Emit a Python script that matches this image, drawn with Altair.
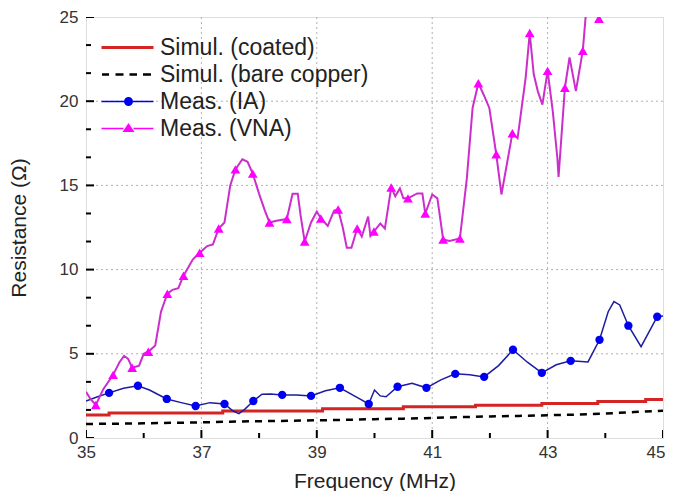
import altair as alt
import pandas as pd

# ---------------- data ----------------
coated_x = [35.0, 35.4, 37.37, 39.1, 40.5, 41.75, 42.9, 43.87, 44.7, 45.0]
coated_y = [1.37, 1.49, 1.60, 1.73, 1.85, 1.95, 2.05, 2.17, 2.28, 2.28]

bare_x = [35, 35.5, 36, 36.5, 37, 37.5, 38, 38.5, 39, 39.5, 40, 40.5, 41, 41.5,
          42, 42.5, 43, 43.5, 44, 44.5, 45]
bare_y = [0.83, 0.85, 0.87, 0.90, 0.93, 0.97, 1.00, 1.02, 1.05, 1.08, 1.12, 1.15,
          1.19, 1.24, 1.28, 1.31, 1.35, 1.39, 1.45, 1.54, 1.62]

ia_x = [35.0, 35.2, 35.4, 35.65, 35.9, 36.1, 36.4, 36.65, 36.9, 37.15, 37.4, 37.55,
        37.65, 37.75, 37.9, 38.05, 38.2, 38.4, 38.65, 38.9, 39.15, 39.4, 39.65, 39.9,
        40.0, 40.1, 40.2, 40.4, 40.65, 40.9, 41.15, 41.4, 41.65, 41.9, 42.15, 42.4,
        42.65, 42.9, 43.15, 43.4, 43.7, 43.9, 44.05, 44.15, 44.25, 44.4, 44.62, 44.9, 45.0]
ia_y = [2.2, 2.45, 2.68, 2.95, 3.10, 2.85, 2.32, 2.1, 1.90, 2.1, 2.02, 1.6,
        1.45, 1.7, 2.20, 2.6, 2.62, 2.56, 2.55, 2.50, 2.8, 2.98, 2.5, 2.02,
        2.85, 2.5, 2.45, 3.04, 3.25, 2.98, 3.45, 3.81, 3.75, 3.63, 4.3, 5.24,
        4.5, 3.87, 4.35, 4.58, 4.52, 5.83, 7.5, 8.1, 7.9, 6.67, 5.42, 7.20, 7.25]

ia_mx = [35.4, 35.9, 36.4, 36.9, 37.4, 37.9, 38.4, 38.9, 39.4, 39.9,
         40.4, 40.9, 41.4, 41.9, 42.4, 42.9, 43.4, 43.9, 44.4, 44.9]
ia_my = [2.68, 3.10, 2.32, 1.90, 2.02, 2.20, 2.56, 2.50, 2.98, 2.02,
         3.04, 2.98, 3.81, 3.63, 5.24, 3.87, 4.58, 5.83, 6.67, 7.20]

vna_x = [35.00, 35.08, 35.17, 35.30, 35.47, 35.58, 35.66, 35.73, 35.80, 35.92, 36.00,
         36.08, 36.20, 36.30, 36.41, 36.50, 36.60, 36.69, 36.85, 36.97, 37.10, 37.20,
         37.30, 37.40, 37.50, 37.59, 37.71, 37.80, 37.89, 38.00, 38.10, 38.18, 38.30,
         38.48, 38.58, 38.67, 38.72, 38.79, 38.90, 39.00, 39.07, 39.19, 39.30, 39.37,
         39.45, 39.52, 39.60, 39.70, 39.78, 39.89, 39.93, 39.99, 40.10, 40.18, 40.29,
         40.36, 40.44, 40.50, 40.58, 40.74, 40.83, 40.88, 41.00, 41.09, 41.19, 41.30,
         41.48, 41.60, 41.70, 41.80, 41.89, 41.99, 42.11, 42.20, 42.39, 42.48, 42.62,
         42.69, 42.76, 42.83, 42.91, 43.00, 43.09, 43.17, 43.19, 43.30, 43.38, 43.49,
         43.61, 43.66, 43.75, 43.89]
vna_y = [2.74, 2.30, 1.96, 2.90, 3.75, 4.50, 4.88, 4.70, 4.17, 4.30, 5.00,
         5.12, 5.50, 7.50, 8.57, 8.80, 8.90, 9.64, 10.60, 11.00, 11.40, 11.50,
         12.44, 12.80, 15.00, 15.95, 16.55, 16.40, 15.70, 14.50, 13.50, 12.80, 12.90,
         13.00, 14.50, 14.50, 13.20, 11.67, 12.80, 13.45, 13.04, 12.60, 13.50, 13.57,
         12.50, 11.30, 11.30, 12.44, 11.96, 13.15, 12.00, 12.26, 12.74, 12.44, 14.88,
         14.35, 14.82, 14.23, 14.23, 14.52, 14.52, 13.33, 14.46, 14.23, 11.79, 11.70,
         11.85, 15.40, 19.60, 21.07, 20.40, 19.60, 16.85, 14.46, 18.10, 17.80, 21.40,
         24.05, 21.60, 20.60, 19.80, 21.80, 19.40, 16.60, 15.50, 20.80, 22.60, 20.60,
         23.00, 25.05, 25.80, 24.90]

vna_mx = [35.17, 35.47, 35.80, 36.08, 36.41, 36.69, 36.97, 37.30, 37.59, 37.89,
          38.18, 38.48, 38.79, 39.07, 39.37, 39.70, 39.99, 40.29, 40.58, 40.88,
          41.19, 41.48, 41.80, 42.11, 42.39, 42.69, 43.00, 43.30, 43.61, 43.89]
vna_my = [1.96, 3.75, 4.17, 5.12, 8.57, 9.64, 11.00, 12.44, 15.95, 15.70,
          12.80, 13.00, 11.67, 13.04, 13.57, 12.44, 12.26, 14.88, 14.23, 13.33,
          11.79, 11.85, 21.07, 16.85, 18.10, 24.05, 21.80, 20.80, 23.00, 24.90]

series_names = ["Simul. (coated)", "Simul. (bare copper)", "Meas. (IA)", "Meas. (VNA)"]
series_colors = ["#D42424", "#000000", "#0000F0", "#FF00FF"]

x_major = [35, 37, 39, 41, 43, 45]
x_minor = [36, 38, 40, 42, 44]
y_major = [0, 5, 10, 15, 20, 25]
y_minor = [1.667, 3.333, 6.667, 8.333, 11.667, 13.333, 16.667, 18.333, 21.667, 23.333]
x_grid = [37, 39, 41, 43]
y_grid = [5, 10, 15, 20]

# legend glyphs (line + marker) as custom symbol paths
legend_paths = [
    "M-9.4,-0.3H1V0.3H-9.4Z",
    "M-9.3,-0.25H-7.9V0.25H-9.3Z M-6.6,-0.25H-5.0V0.25H-6.6Z "
    "M-3.8,-0.25H-2.3V0.25H-3.8Z M-1.1,-0.25H0.5V0.25H-1.1Z",
    "M-9.4,-0.13H-4.8V0.13H-9.4Z M-3.2,-0.13H1V0.13H-3.2Z "
    "M-4.9,0A0.9,0.9 0 1,1 -3.1,0A0.9,0.9 0 1,1 -4.9,0Z",
    "M-9.4,-0.13H-5.0V0.13H-9.4Z M-3.0,-0.13H1V0.13H-3.0Z "
    "M-4.0,-1.1L-2.8,0.7L-5.2,0.7Z",
]

FONT = "Liberation Sans"

x_axis = alt.Axis(
    values=x_major, grid=False, domain=False, ticks=False, tickSize=0,
    labelFlush=False,
    labelAlign={"condition": {"test": "datum.value == 45", "value": "right"}, "value": "center"},
    labelOffset={"condition": {"test": "datum.value == 45", "value": 2}, "value": 0},
    labelFont=FONT, labelFontSize=17, labelColor="#333",
    labelPadding=6, title="Frequency (MHz)", titleFont=FONT, titleFontSize=21,
    titleFontWeight="normal", titleColor="#222", titlePadding=10,
)
y_axis = alt.Axis(
    values=y_major, grid=False, domain=False, ticks=False, tickSize=0, format="d",
    labelFont=FONT, labelFontSize=17, labelColor="#333", labelPadding=8,
    title="Resistance (Ω)", titleFont=FONT, titleFontSize=21,
    titleFontWeight="normal", titleColor="#222", titlePadding=30,
)

X = alt.X("x:Q", scale=alt.Scale(domain=[35, 45], nice=False, zero=False), axis=x_axis)
Y = alt.Y("y:Q", scale=alt.Scale(domain=[0, 25], nice=False, zero=False), axis=y_axis)

grid_v = alt.Chart(pd.DataFrame({"x": x_grid})).mark_rule(
    color="#b0b0b0", strokeDash=[2, 3], strokeWidth=1).encode(x=X)
grid_h = alt.Chart(pd.DataFrame({"y": y_grid})).mark_rule(
    color="#b0b0b0", strokeDash=[2, 3], strokeWidth=1).encode(y=Y)


def tick_layer(xs, ys, orient, size):
    return alt.Chart(pd.DataFrame({"x": xs, "y": ys})).mark_tick(
        orient=orient, size=size, thickness=2, color="#000", opacity=1, clip=True
    ).encode(x=X, y=Y)


# inward ticks: ticks centred on the frame, the outer half clipped away
tx_major = tick_layer(x_major, [0] * len(x_major), "vertical", 16)
tx_minor = tick_layer(x_minor, [0] * len(x_minor), "vertical", 10)
ty_major = tick_layer([35] * len(y_major), y_major, "horizontal", 16)
ty_minor = tick_layer([35] * len(y_minor), y_minor, "horizontal", 10)

coated = alt.Chart(pd.DataFrame({"x": coated_x, "y": coated_y})).mark_line(
    color="#D42424", strokeWidth=3, interpolate="step-after", clip=True).encode(x=X, y=Y)
bare = alt.Chart(pd.DataFrame({"x": bare_x, "y": bare_y})).mark_line(
    color="#000000", strokeWidth=2.5, strokeDash=[7, 6], clip=True).encode(x=X, y=Y)
ia_line = alt.Chart(pd.DataFrame({"x": ia_x, "y": ia_y})).mark_line(
    color="#1C1CA0", strokeWidth=1.5, clip=True).encode(x=X, y=Y)
ia_pts = alt.Chart(pd.DataFrame({"x": ia_mx, "y": ia_my})).mark_point(
    shape="circle", filled=True, size=70, color="#0000F0", opacity=1, clip=True).encode(x=X, y=Y)
vna_line = alt.Chart(pd.DataFrame({"x": vna_x, "y": vna_y})).mark_line(
    color="#CC2ECC", strokeWidth=2, clip=True).encode(x=X, y=Y)
vna_pts = alt.Chart(pd.DataFrame({"x": vna_mx, "y": vna_my})).mark_point(
    shape="triangle-up", filled=True, size=95, color="#FF00FF", opacity=1, clip=True).encode(x=X, y=Y)

leg = alt.Legend(
    title=None, orient="none", legendX=51, legendY=19, padding=0,
    labelFont=FONT, labelFontSize=23, labelColor="#222", labelOffset=0, labelLimit=400,
    symbolSize=100, symbolStrokeWidth=0, symbolOpacity=1, rowPadding=3,
)
legend_layer = alt.Chart(pd.DataFrame({"series": series_names})).mark_point(
    filled=True, opacity=0).encode(
    color=alt.Color("series:N", scale=alt.Scale(domain=series_names, range=series_colors), legend=leg),
    shape=alt.Shape("series:N", scale=alt.Scale(domain=series_names, range=legend_paths), legend=leg),
)

chart = alt.layer(
    grid_v, grid_h, tx_major, tx_minor, ty_major, ty_minor,
    coated, bare, ia_line, ia_pts, vna_line, vna_pts, legend_layer
).properties(
    width=657, height=483, background="white", padding=0,
    autosize=alt.AutoSizeParams(type="fit", contains="padding"),
).configure_view(
    stroke="#000", strokeWidth=2
).configure(font=FONT)

chart.save("out.html", embed_options={"renderer": "svg", "actions": False})
